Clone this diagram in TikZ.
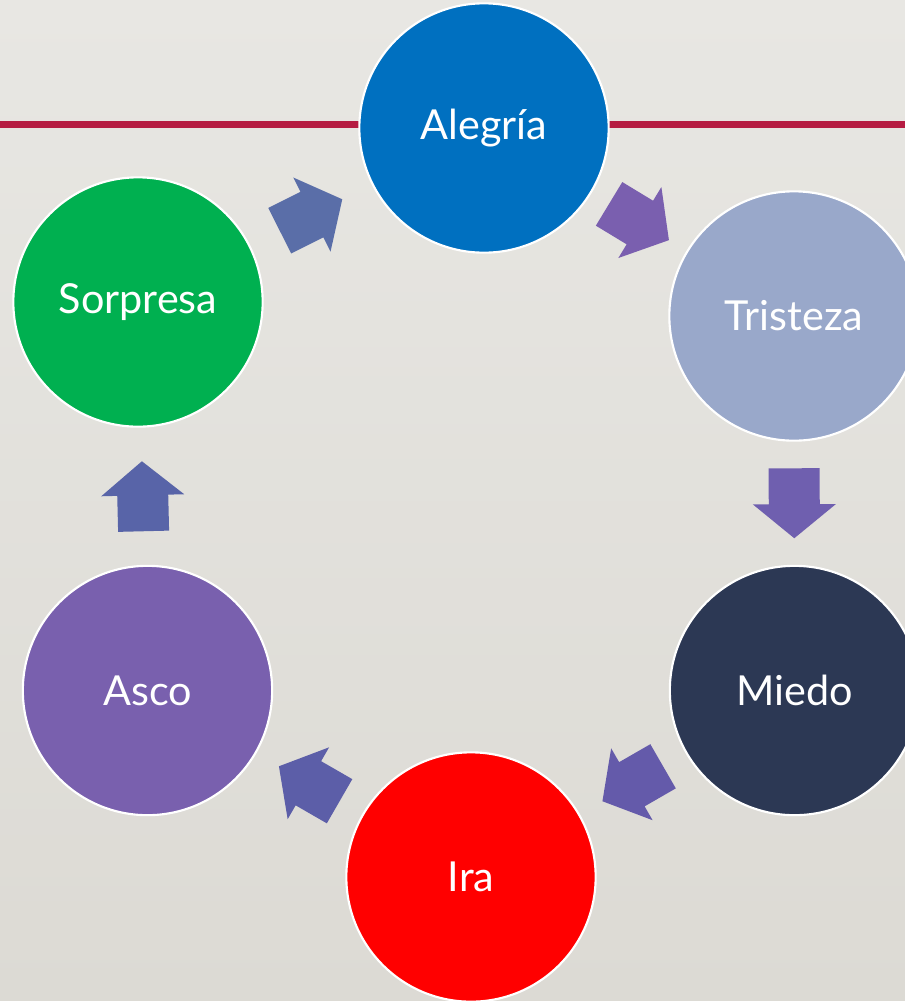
\documentclass[tikz,border=0pt]{standalone}
\usepackage{fontspec}
\setmainfont{Lato}
\usetikzlibrary{calc}
\definecolor{bgtop}{HTML}{E8E7E3}
\definecolor{bgbot}{HTML}{DCDAD4}
\definecolor{redline}{HTML}{B51C42}
\definecolor{cAle}{HTML}{0070C0}
\definecolor{cTri}{HTML}{99A8CA}
\definecolor{cMie}{HTML}{2C3854}
\definecolor{cIra}{HTML}{FF0000}
\definecolor{cAsc}{HTML}{7960AE}
\definecolor{cSor}{HTML}{00B050}
\definecolor{arrA}{HTML}{5A6EA8}
\definecolor{arrB}{HTML}{7A5FAF}
\definecolor{arrC}{HTML}{6F5FAF}
\definecolor{arrD}{HTML}{645AAA}
\definecolor{arrE}{HTML}{5C5EA8}
\definecolor{arrF}{HTML}{5864A8}
\tikzset{
  emotion/.style={circle, draw=white, line width=1.6pt, minimum size=187pt,
    inner sep=0pt, text=white, font=\fontsize{31}{36}\selectfont},
  blockarrow/.style={draw=none}
}
\begin{document}
\begin{tikzpicture}[x=0.75pt, y=-0.75pt]
\useasboundingbox (0,0) rectangle (905,1001);
\shade[top color=bgtop, bottom color=bgbot] (0,0) rectangle (905,1001);
\draw[redline, line width=5.2pt] (0,124.5) -- (905,124.5);
\node[emotion, fill=cAle] (ale) at (484,128) {Alegría};
\node[emotion, fill=cTri] (tri) at (794,316) {Tristeza};
\node[emotion, fill=cMie] (mie) at (794.5,690.5) {Miedo};
\node[emotion, fill=cIra] (ira) at (471,877) {Ira};
\node[emotion, fill=cAsc] (asc) at (147.5,690.5) {Asco};
\node[emotion, fill=cSor] (sor) at (138,302) {Sorpresa};
\foreach \a/\b/\c in {sor/ale/arrA, ale/tri/arrB, tri/mie/arrC, mie/ira/arrD, ira/asc/arrE, asc/sor/arrF} {
  \pgfmathanglebetweenpoints{\pgfpointanchor{\a}{center}}{\pgfpointanchor{\b}{center}}
  \let\ang\pgfmathresult
  \fill[blockarrow, fill=\c, shift={($(\a)!0.5!(\b)$)}, rotate=\ang]
    (-35,-25.5) -- (1,-25.5) -- (1,-41.5) -- (35,0) -- (1,41.5) -- (1,25.5) -- (-35,25.5) -- cycle;
}
\end{tikzpicture}
\end{document}
